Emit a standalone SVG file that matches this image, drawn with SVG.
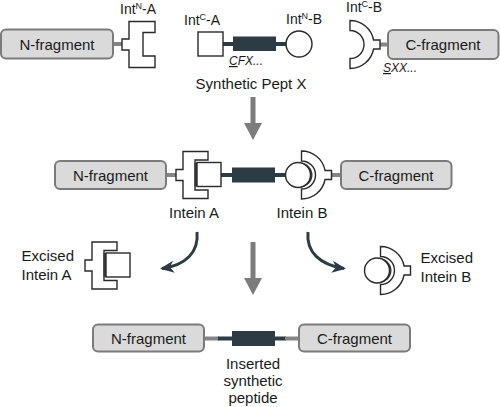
<svg xmlns="http://www.w3.org/2000/svg" width="500" height="407" viewBox="0 0 500 407">
<style>
.box{fill:#dadada;stroke:#7b7b7b;stroke-width:2}
.t{font-family:"Liberation Sans",Arial,sans-serif;font-size:15px;fill:#1a1a1a}
.lab{font-size:14px}
.it{font-style:italic;font-size:12px}
.shape{fill:#fff;stroke:#2a2a2a;stroke-width:1.4}
.gline{stroke:#858585;stroke-width:4;fill:none}
.dline{stroke:#2d3b45;stroke-width:4;fill:none}
.bar{fill:#2d3b45}
.garrow{fill:#7c7c7c}
.curve{stroke:#2d3b45;stroke-width:3;fill:none}
</style>
<defs>
<marker id="ah" markerUnits="userSpaceOnUse" markerWidth="16" markerHeight="14" refX="12" refY="7" orient="auto">
<path d="M0,1 L14,7 L0,13 L4,7 Z" fill="#2d3b45"/>
</marker>
<path id="bshape" class="shape" d="M0,-24 A24,24 0 0 1 23.57,-4.5 L30,-4.5 L30,4.5 L23.57,4.5 A24,24 0 0 1 0,24 L0,14 A14,14 0 0 0 0,-14 Z"/>
<g id="intA">
<polygon class="shape" points="7,0 32,0 32,8.5 19,8.5 19,38.5 32,38.5 32,47 7,47 7,29 0,29 0,18 7,18"/>
<rect x="18.5" y="11" width="24" height="24" fill="#3a3a3a"/>
<rect class="shape" x="21" y="11" width="24" height="24"/>
</g>
<g id="intB">
<use href="#bshape"/>
<circle cx="-1.5" cy="0" r="12.5" fill="#3a3a3a"/>
<circle class="shape" cx="-3.5" cy="0" r="12.5"/>
</g>
</defs>

<g id="connectors">
<line class="gline" x1="113" y1="44" x2="123" y2="44"/>
<line class="dline" x1="222" y1="44" x2="234" y2="44"/>
<line class="dline" x1="275" y1="44" x2="287" y2="44"/>
<line class="gline" x1="379" y1="44.5" x2="388" y2="44.5"/>
<line class="gline" x1="166" y1="175" x2="177" y2="175"/>
<line class="dline" x1="220" y1="175" x2="233" y2="175"/>
<line class="dline" x1="274" y1="175" x2="286" y2="175"/>
<line class="gline" x1="331" y1="175" x2="341" y2="175"/>
<line class="gline" x1="204" y1="338.5" x2="219" y2="338.5"/>
<line class="dline" x1="218" y1="338.5" x2="233" y2="338.5"/>
<line class="dline" x1="274" y1="338.5" x2="286" y2="338.5"/>
<line class="gline" x1="285" y1="338.5" x2="299" y2="338.5"/>
<path class="garrow" d="M250.5,97 L255.5,97 L255.5,123 L262,123 L253,140 L244,123 L250.5,123 Z"/>
<path class="garrow" d="M250.5,242 L255.5,242 L255.5,278 L262,278 L253,295 L244,278 L250.5,278 Z"/>
<path class="curve" d="M197,232 C199,252 186,265 162,268.5" marker-end="url(#ah)"/>
<path class="curve" d="M308,232 C306,252 320,265 344,268.5" marker-end="url(#ah)"/>
</g>

<g id="top-nfrag">
<rect class="box" x="1" y="29.5" width="112" height="29" rx="5"/>
<text class="t" x="57" y="49.5" text-anchor="middle">N-fragment</text>
</g>
<g id="top-intNA">
<polygon class="shape" points="129,21.5 155,21.5 155,32.5 143,32.5 143,56 155,56 155,67.5 129,67.5 129,50 122,50 122,39 129,39"/>
<text class="t lab" x="120" y="13.5">Int<tspan font-size="9" dy="-5">N</tspan><tspan dy="5">-A</tspan></text>
</g>
<g id="top-intCA">
<rect class="shape" x="198" y="32" width="25" height="24"/>
<text class="t lab" x="184" y="25">Int<tspan font-size="9" dy="-5">C</tspan><tspan dy="5">-A</tspan></text>
</g>
<g id="top-pept">
<rect class="bar" x="233" y="36.5" width="43" height="14.5"/>
<text class="t it" x="229" y="65"><tspan style="text-decoration:underline">C</tspan>FX...</text>
<text class="t" x="251" y="89" text-anchor="middle">Synthetic Pept X</text>
</g>
<g id="top-intNB">
<circle class="shape" cx="299" cy="44" r="13"/>
<text class="t lab" x="286" y="24">Int<tspan font-size="9" dy="-5">N</tspan><tspan dy="5">-B</tspan></text>
</g>
<g id="top-intCB">
<use href="#bshape" transform="translate(350,44.5)"/>
<text class="t lab" x="346" y="12">Int<tspan font-size="9" dy="-5">C</tspan><tspan dy="5">-B</tspan></text>
</g>
<g id="top-cfrag">
<rect class="box" x="388" y="30" width="110.5" height="29" rx="5"/>
<text class="t" x="443" y="49.5" text-anchor="middle">C-fragment</text>
<text class="t it" x="383" y="72"><tspan style="text-decoration:underline">S</tspan>XX...</text>
</g>

<g id="mid-nfrag">
<rect class="box" x="55" y="161" width="111" height="28" rx="5"/>
<text class="t" x="110.5" y="180.5" text-anchor="middle">N-fragment</text>
</g>
<g id="mid-inteinA">
<use href="#intA" transform="translate(176,151.5)"/>
<text class="t" x="194" y="218" text-anchor="middle">Intein A</text>
</g>
<g id="mid-pept">
<rect class="bar" x="232" y="167.5" width="43" height="15"/>
</g>
<g id="mid-inteinB">
<use href="#intB" transform="translate(301.5,175)"/>
<text class="t" x="302" y="218" text-anchor="middle">Intein B</text>
</g>
<g id="mid-cfrag">
<rect class="box" x="341" y="161" width="110.5" height="28" rx="5"/>
<text class="t" x="396" y="180.5" text-anchor="middle">C-fragment</text>
</g>

<g id="excised-A">
<use href="#intA" transform="translate(85,242)"/>
<text class="t" x="21.5" y="261">Excised</text>
<text class="t" x="21.5" y="279.5">Intein A</text>
</g>
<g id="excised-B">
<use href="#intB" transform="translate(380.5,270.5)"/>
<text class="t" x="420.5" y="263">Excised</text>
<text class="t" x="420.5" y="281.5">Intein B</text>
</g>

<g id="bot-nfrag">
<rect class="box" x="93" y="324.5" width="111" height="27" rx="5"/>
<text class="t" x="148.5" y="343.5" text-anchor="middle">N-fragment</text>
</g>
<g id="bot-pept">
<rect class="bar" x="232" y="331" width="43" height="15"/>
<text class="t" x="253" y="369" text-anchor="middle">Inserted</text>
<text class="t" x="253" y="386" text-anchor="middle">synthetic</text>
<text class="t" x="253" y="403" text-anchor="middle">peptide</text>
</g>
<g id="bot-cfrag">
<rect class="box" x="299" y="324.5" width="111" height="27" rx="5"/>
<text class="t" x="354.5" y="343.5" text-anchor="middle">C-fragment</text>
</g>
</svg>
